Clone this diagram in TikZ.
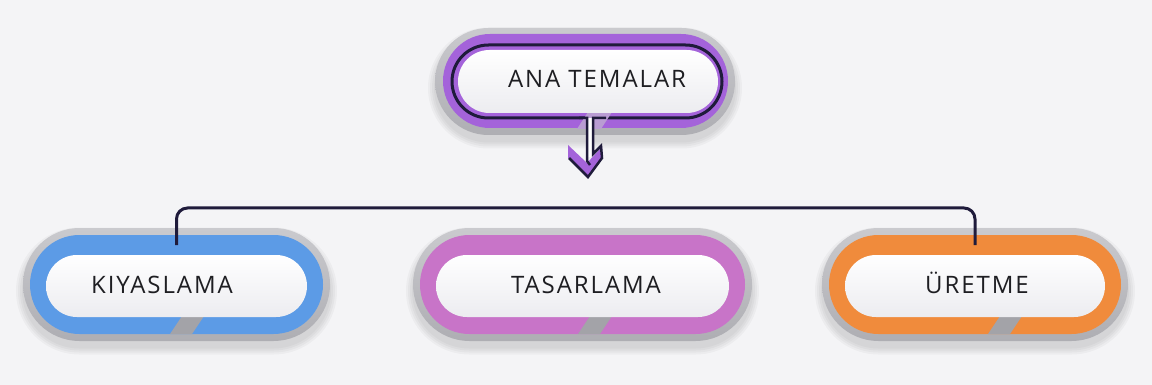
\documentclass[tikz,border=0pt]{standalone}
\usepackage{fontspec}
\setmainfont{Open Sans}[LetterSpace=8]
\usetikzlibrary{shapes.misc}

\definecolor{bg}{HTML}{F4F4F6}
\definecolor{ring}{HTML}{AEAEB3}
\definecolor{ringlight}{HTML}{CACACE}
\definecolor{gapgray}{HTML}{A3A3A8}
\definecolor{facebottom}{HTML}{ECECF0}
\definecolor{navy}{HTML}{1F1B3B}
\definecolor{cblue}{HTML}{5C9BE6}
\definecolor{cpink}{HTML}{C874C8}
\definecolor{corange}{HTML}{F08B3C}
\definecolor{cpurple}{HTML}{A463DA}
\definecolor{ink}{HTML}{1E1E22}

\tikzset{
  pill/.style={rounded rectangle, inner sep=0pt, outer sep=0pt},
  ringpill/.style={pill, top color=ringlight, bottom color=ring},
  bandpill/.style={pill, fill=#1},
  facepill/.style={pill, top color=white, bottom color=facebottom},
  shade/.style={pill, fill=black, fill opacity=0.03},
  label/.style={text=ink, font=\fontsize{24}{26}\selectfont, anchor=base, inner sep=0pt},
  conn/.style={draw=navy, line width=3pt, rounded corners=11pt},
  outline/.style={draw=navy, line width=2.5pt, line join=miter},
}

% lower theme pill: name, centre x, width, band colour, gap x, label x, text
\newcommand\themepill[7]{%
  \foreach \e in {2,6,10,14}{%
    \node[shade, minimum width=#3+\e, minimum height=113+\e] at (#2,291) {};}
  \node[ringpill, minimum width=#3, minimum height=113] (#1-ring) at (#2,284.5) {};
  \node[bandpill=#4, minimum width=#3-14, minimum height=99] (#1-band) at (#2,284.5) {};
  \fill[gapgray] (#5,316) -- (#5+22,316) -- (#5+10,334) -- (#5-12,334) -- cycle;
  \node[facepill, minimum width=#3-46, minimum height=62] (#1) at (#2,286) {};
  \node[label] (#1-text) at (#6,293.5) {#7};
}

\begin{document}
\begin{tikzpicture}[x=1pt,y=-1pt]
  \fill[bg] (0,0) rectangle (1152,385);
  \useasboundingbox (0,0) rectangle (1152,385);

  % ---- main theme pill ----
  \foreach \e in {2,6,10,14}{%
    \node[shade, minimum width=300+\e, minimum height=107+\e] at (585,88) {};}
  \node[ringpill, minimum width=300, minimum height=107] (main-ring) at (585,81.5) {};
  \node[bandpill=cpurple, minimum width=285, minimum height=94] (main-band) at (585.5,81) {};
  \node[pill, draw=navy, line width=3pt, minimum width=270, minimum height=73] (main-line) at (587,81.5) {};
  \fill[cpurple!45!ringlight] (588,112) -- (612,112) -- (601,129) -- (577,129) -- cycle;
  \node[facepill, minimum width=260, minimum height=63] (main) at (588,81.5) {};
  \node[label] (main-text) at (597,88) {ANA TEMALAR};

  % ---- arrow leaving the main pill ----
  \coordinate (arrowtip) at (588,177);
  \fill[white] (587,118) rectangle (593,157);
  \fill[cpurple] (568,145) -- (587,163) -- (602,147) -- (602,158) -- (arrowtip) -- (568,158) -- cycle;
  \draw[outline] (579,118) -- (587,118) -- (587,161) -- (590,165);
  \draw[outline] (606,118) -- (593,118) -- (593,154) -- (601,146) -- (602,158) -- (arrowtip) -- (569,158);

  % ---- theme pills ----
  \themepill{kiy}{176.5}{307}{cblue}{182}{162}{KIYASLAMA}
  \themepill{tas}{582.5}{339}{cpink}{590}{586}{TASARLAMA}
  \themepill{ure}{975}{306}{corange}{1000}{977}{ÜRETME}

  % ---- bracket linking the outer themes ----
  \coordinate (bus) at (585,208);
  \draw[conn] ([yshift=-10pt]kiy-band.north) |- (bus) -| ([yshift=-10pt]ure-band.north);
\end{tikzpicture}
\end{document}
